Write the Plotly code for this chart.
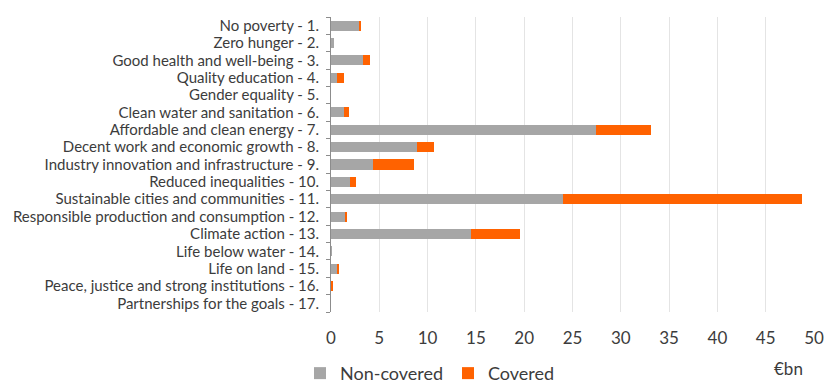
import plotly.graph_objects as go

goals = [
    "No poverty - 1.",
    "Zero hunger - 2.",
    "Good health and well-being - 3.",
    "Quality education - 4.",
    "Gender equality - 5.",
    "Clean water and sanitation - 6.",
    "Affordable and clean energy - 7.",
    "Decent work and economic growth - 8.",
    "Industry innovation and infrastructure - 9.",
    "Reduced inequalities - 10.",
    "Sustainable cities and communities - 11.",
    "Responsible production and consumption - 12.",
    "Climate action - 13.",
    "Life below water - 14.",
    "Life on land - 15.",
    "Peace, justice and strong institutions - 16.",
    "Partnerships for the goals - 17.",
]

# EUR bn per goal
non_covered = [2.95, 0.35, 3.3, 0.58, 0.0, 1.35, 27.4, 8.9, 4.3, 2.0, 24.0, 1.45, 14.5, 0.1, 0.65, 0.02, 0.0]
covered = [0.18, 0.0, 0.75, 0.73, 0.0, 0.55, 5.75, 1.75, 4.25, 0.55, 24.8, 0.17, 5.1, 0.0, 0.1, 0.15, 0.0]

x_ticks = [0, 5, 10, 15, 20, 25, 30, 35, 40, 45, 50]

GREY = "#A6A6A6"
ORANGE = "#FF6200"
TEXT = "#3C3C3C"
FONT = "Lato, 'Open Sans', sans-serif"

fig = go.Figure()
fig.add_trace(go.Bar(y=goals, x=non_covered, orientation="h", name="Non-covered",
                     marker=dict(color=GREY, line=dict(width=0))))
fig.add_trace(go.Bar(y=goals, x=covered, orientation="h", name="Covered",
                     marker=dict(color=ORANGE, line=dict(width=0))))

fig.update_layout(
    barmode="stack",
    bargap=0.42,
    width=825,
    height=383,
    margin=dict(l=331, r=11, t=17, b=71, autoexpand=False),
    paper_bgcolor="white",
    plot_bgcolor="white",
    font=dict(family=FONT, size=15, color=TEXT),
    showlegend=True,
    legend=dict(
        orientation="h",
        x=300 / 825,
        xref="container",
        xanchor="left",
        y=0.025,
        yref="container",
        yanchor="middle",
        font=dict(size=18, color=TEXT),
        traceorder="normal",
        itemwidth=30,
        entrywidth=103,
        entrywidthmode="pixels",
        bgcolor="rgba(0,0,0,0)",
    ),
    annotations=[
        dict(text="€bn", xref="paper", yref="paper", x=0.948, y=-0.19,
             xanchor="center", yanchor="middle", showarrow=False,
             font=dict(size=17, color=TEXT)),
    ],
)

fig.update_xaxes(
    range=[0, 50],
    tickvals=x_ticks,
    showgrid=True,
    gridcolor="#E4E4E4",
    gridwidth=1,
    zeroline=False,
    showline=False,
    ticks="",
    ticklabelstandoff=14,
    tickfont=dict(size=17, color=TEXT),
    fixedrange=True,
)

fig.update_yaxes(
    autorange="reversed",
    type="category",
    tickmode="array",
    tickvals=goals,
    ticktext=goals,
    showline=True,
    linecolor="#8C8C8C",
    linewidth=1,
    ticks="outside",
    tickson="boundaries",
    ticklen=4,
    tickcolor="#8C8C8C",
    showgrid=False,
    ticklabelstandoff=8,
    tickfont=dict(size=15, color=TEXT),
    fixedrange=True,
)

fig.write_html("out.html")
